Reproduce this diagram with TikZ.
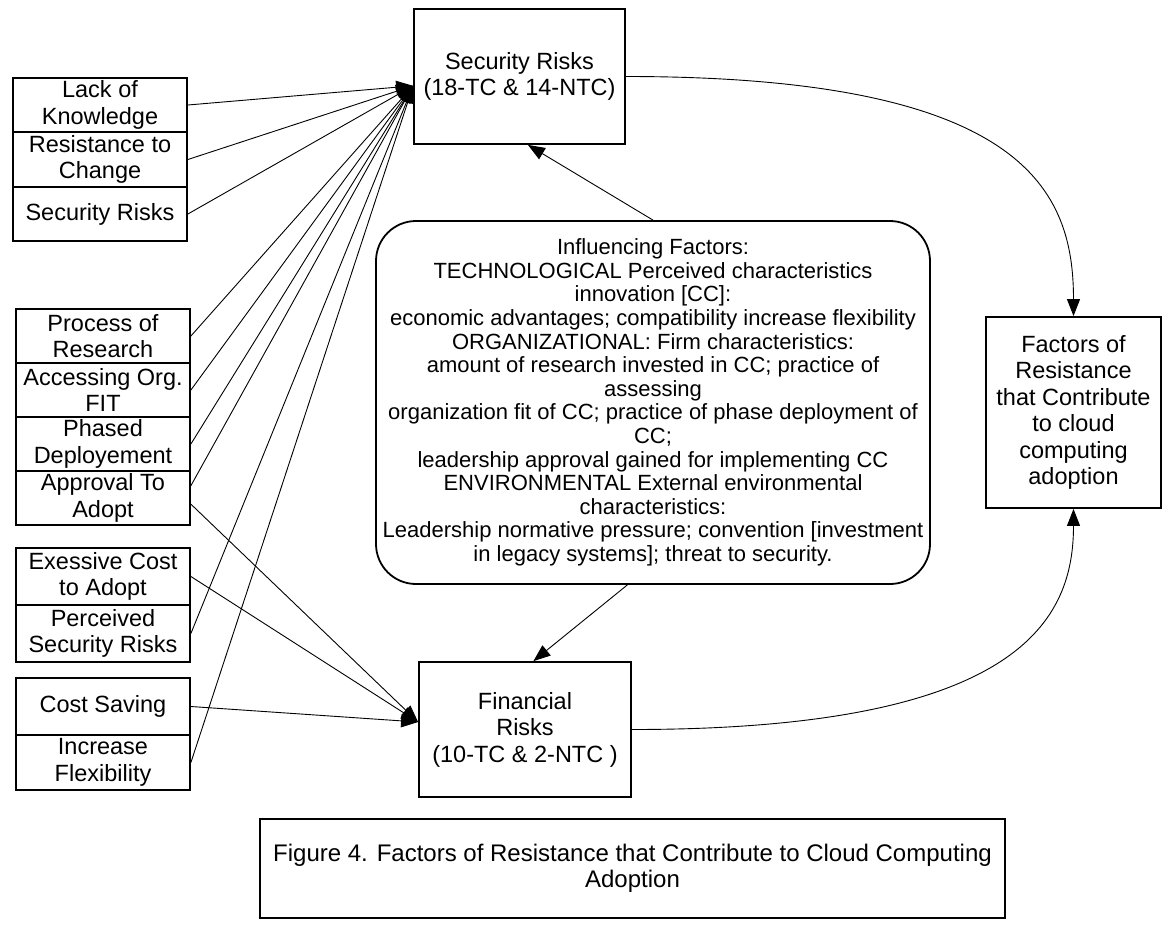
\documentclass[tikz,border=0pt]{standalone}
\usepackage{fontspec}
\setmainfont{Liberation Sans}
\usetikzlibrary{arrows.meta}

\tikzset{
  box/.style={draw, line width=1.8pt, inner sep=0pt, align=center,
    font={\fontsize{23.5}{26.5}\selectfont}},
  leftbox/.style={box, minimum width=174pt},
  roundbox/.style={box, rounded corners=40pt,
    font={\fontsize{22}{23.6}\selectfont}},
  link/.style={line width=0.9pt, -{Triangle[length=17pt,width=13pt]}}
}

\begin{document}
\begin{tikzpicture}[x=1pt,y=-1pt]
\useasboundingbox (0,0) rectangle (1165,927);

% stacked factor boxes on the left
\node[leftbox, minimum height=54pt] (lk)  at (100,105)   {Lack of\\Knowledge};
\node[leftbox, minimum height=55pt] (rc)  at (100,159.5) {Resistance to\\Change};
\node[leftbox, minimum height=54pt] (sr)  at (100,214)   {Security Risks};

\node[leftbox, minimum height=54pt] (pr)  at (103,336) {Process of\\Research};
\node[leftbox, minimum height=54pt] (ao)  at (103,390) {Accessing Org.\\FIT};
\node[leftbox, minimum height=54pt] (pd)  at (103,444) {Phased\\Deployement};
\node[leftbox, minimum height=54pt] (ap)  at (103,498) {Approval To\\Adopt};

\node[leftbox, minimum height=57pt] (ec)  at (103,576.5) {Exessive Cost\\to Adopt};
\node[leftbox, minimum height=57pt] (ps)  at (103,633.5) {Perceived\\Security Risks};

\node[leftbox, minimum height=57pt] (cs)  at (103,706.5) {Cost Saving};
\node[leftbox, minimum height=55pt] (ifx) at (103,762.5) {Increase\\Flexibility};

% main risk boxes
\node[box, minimum width=211pt, minimum height=135pt] (sec) at (519.5,76.5)
  {Security Risks\\(18-TC \& 14-NTC)};
\node[box, minimum width=212pt, minimum height=135pt] (fin) at (525,729.5)
  {Financial\\Risks\\(10-TC \& 2-NTC )};
\node[box, minimum width=175pt, minimum height=191pt] (fac) at (1073.5,412.5)
  {Factors of\\Resistance\\that Contribute\\to cloud\\computing\\adoption};

% influencing factors
\node[roundbox, minimum width=554pt, minimum height=363pt] (inf) at (653,402.5)
  {Influencing Factors:\\
   TECHNOLOGICAL Perceived characteristics\\
   innovation [CC]:\\
   economic advantages; compatibility increase flexibility\\
   ORGANIZATIONAL: Firm characteristics:\\
   amount of research invested in CC; practice of\\
   assessing\\
   organization fit of CC; practice of phase deployment of\\
   CC;\\
   leadership approval gained for implementing CC\\
   ENVIRONMENTAL External environmental\\
   characteristics:\\
   Leadership normative pressure; convention [investment\\
   in legacy systems]; threat to security.};

% caption
\node[box, minimum width=745pt, minimum height=99pt,
  font={\fontsize{24}{26.5}\selectfont}] (cap) at (632.5,868.5)
  {Figure 4. Factors of Resistance that Contribute to Cloud Computing\\Adoption};

% links into security risks
\foreach \src/\anc in {lk/east, rc/east, sr/east, pr/east, ao/east, pd/east,
                      ap/8, ps/east, ifx/east}
  \draw[link] (\src.\anc) -- (sec.185);

% links into financial risks
\foreach \src/\anc in {ap/-4, ec/east, cs/east}
  \draw[link] (\src.\anc) -- (fin.176);

\draw[link] (inf.north) -- (sec.-83);
\draw[link] (inf.-98) -- (fin.83);

% curved links to the outcome box
\draw[link] (sec.east) .. controls +(400,0) and +(0,-125) .. (fac.north);
\draw[link] (fin.east) .. controls +(390,0) and +(0,110) .. (fac.south);
\end{tikzpicture}
\end{document}
